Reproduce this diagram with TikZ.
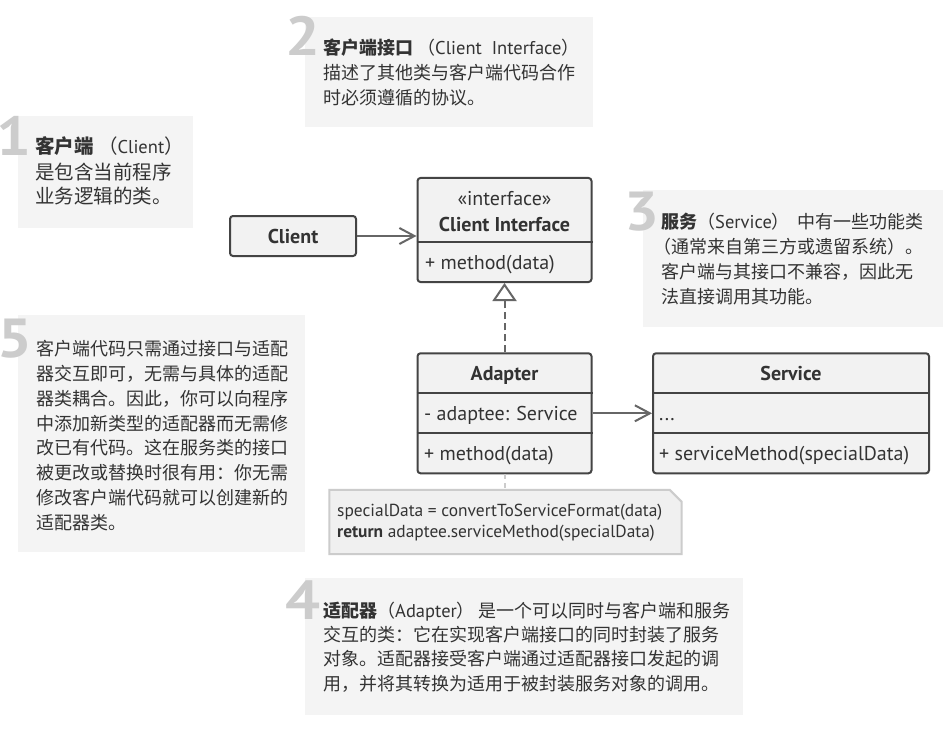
\documentclass[tikz,border=0pt]{standalone}
\usepackage{fontspec}
\usepackage{graphicx}
\setmainfont{PT Sans}
\newfontfamily\cjk{Noto Sans CJK SC}
\usetikzlibrary{arrows.meta}
\definecolor{panelbg}{HTML}{F4F4F4}
\definecolor{umlfill}{HTML}{F2F2F2}
\definecolor{umlline}{HTML}{444444}
\definecolor{textc}{HTML}{333333}
\definecolor{arrowc}{HTML}{666666}
\definecolor{digitc}{HTML}{CCCCCC}
\definecolor{notefill}{HTML}{F0F0F0}
\definecolor{noteline}{HTML}{CCCCCC}
\newcommand\lat[1]{{\rmfamily\fontsize{18.5}{25}\selectfont #1}}
\newcommand\bignum[1]{\scalebox{1.12}[1]{#1}}
\newcommand\edgenum[1]{\makebox[28pt][r]{\bignum{#1}}}
\begin{document}
\begin{tikzpicture}[x=1pt,y=-1pt,
  panel/.style={fill=panelbg, draw=none},
  digit/.style={anchor=base east, inner sep=0, text=digitc, font=\fontsize{55}{55}\selectfont\bfseries},
  zhline/.style={anchor=base west, inner sep=0, text=textc, font=\fontsize{18}{25}\cjk},
  zhbig/.style={anchor=base west, inner sep=0, text=textc, font=\fontsize{19.5}{25}\cjk},
  umlbox/.style={draw=umlline, fill=umlfill, line width=2pt, rounded corners=3pt, inner sep=0},
  umldiv/.style={draw=umlline, line width=2pt},
  umltxt/.style={inner sep=0, text=textc, font=\fontsize{20}{24}\selectfont},
  umlbold/.style={umltxt, anchor=base, font=\fontsize{20}{24}\selectfont\bfseries},
  notetxt/.style={inner sep=0, anchor=base west, text=textc, font=\fontsize{17.4}{20}\selectfont},
  assoc/.style={draw=arrowc, line width=2pt, -{Straight Barb[length=15pt, width=16pt, line width=2pt]}},
  realize/.style={draw=arrowc, line width=2pt, dash pattern=on 7pt off 4pt, -{Triangle[length=18pt, width=24pt, fill=white, line width=2pt]}},
  notelink/.style={draw=noteline, line width=2pt, dash pattern=on 5pt off 4pt},
]
\useasboundingbox (0,0) rectangle (952,738);
\fill[white] (0,0) rectangle (952,738);

% ---------- panels ----------
\path[panel] (18,116) rectangle (193,228);
\path[panel] (305,17) rectangle (593,127);
\path[panel] (643,190) rectangle (943,327);
\path[panel] (18,315) rectangle (305,552);
\path[panel] (305,578) rectangle (743,715);

% panel 1
\node[digit] (d1) at (32,156) {\edgenum{1}};
\node[zhbig] (p1a) at (35,154) {{\bfseries 客户端} （\lat{Client}）};
\node[zhbig] (p1b) at (35,179) {是包含当前程序};
\node[zhbig] (p1c) at (35,204) {业务逻辑的类。};

% panel 2
\node[digit] (d2) at (321,56) {\bignum{2}};
\node[zhline] (p2a) at (323,54.5) {{\bfseries 客户端接口} （\lat{Client\ \ Interface}）};
\node[zhline] (p2b) at (323,79.5) {描述了其他类与客户端代码合作};
\node[zhline] (p2c) at (323,104.5) {时必须遵循的协议。};

% panel 3
\node[digit] (d3) at (660,230) {\bignum{3}};
\node[zhline] (p3a) at (661,228.5) {{\bfseries 服务}（\lat{Service}） \ 中有一些功能类};
\node[zhline] (p3b) at (661,253.5) {\hspace{-8pt}（通常来自第三方或遗留系统）。};
\node[zhline] (p3c) at (661,278.5) {客户端与其接口不兼容，因此无};
\node[zhline] (p3d) at (661,303) {法直接调用其功能。};

% panel 5
\node[digit] (d5) at (33,357) {\edgenum{5}};
\node[zhline] (p5a) at (36,355.7) {客户端代码只需通过接口与适配};
\node[zhline] (p5b) at (36,380.5) {器交互即可，无需与具体的适配};
\node[zhline] (p5c) at (36,405.3) {器类耦合。因此，你可以向程序};
\node[zhline] (p5d) at (36,430.1) {中添加新类型的适配器而无需修};
\node[zhline] (p5e) at (36,454.9) {改已有代码。这在服务类的接口};
\node[zhline] (p5f) at (36,479.7) {被更改或替换时很有用：你无需};
\node[zhline] (p5g) at (36,504.5) {修改客户端代码就可以创建新的};
\node[zhline] (p5h) at (36,529.3) {适配器类。};

% panel 4
\node[digit] (d4) at (321,619) {\bignum{4}};
\node[zhline] (p4a) at (323,617) {{\bfseries 适配器}（\lat{Adapter}） 是一个可以同时与客户端和服务};
\node[zhline] (p4b) at (323,641.4) {交互的类：它在实现客户端接口的同时封装了服务};
\node[zhline] (p4c) at (323,665.8) {对象。适配器接受客户端通过适配器接口发起的调};
\node[zhline] (p4d) at (323,690.2) {用，并将其转换为适用于被封装服务对象的调用。};

% ---------- UML ----------
\node[umlbox, minimum width=126pt, minimum height=40pt] (cl) at (293,236) {};
\node[umlbold] (clt) at (293,243) {Client};

\node[umlbox, minimum width=174pt, minimum height=104pt] (ci) at (504.5,230) {};
\draw[umldiv] (ci.west |- 0,242) -- (ci.east |- 0,242);
\node[umltxt, anchor=base] (cis) at (504.5,205) {«interface»};
\node[umlbold] (cit) at (504.5,231.5) {Client Interface};
\node[umltxt, anchor=base west] (cim) at (425,269) {+ method(data)};

\node[umlbox, minimum width=174pt, minimum height=120pt] (ad) at (504.5,413.3) {};
\draw[umldiv] (ad.west |- 0,393.3) -- (ad.east |- 0,393.3);
\draw[umldiv] (ad.west |- 0,433.3) -- (ad.east |- 0,433.3);
\node[umlbold] (adt) at (504.5,380.5) {Adapter};
\node[umltxt, anchor=base west] (ada) at (424,420.5) {- adaptee: Service};
\node[umltxt, anchor=base west] (adm) at (424,460.5) {+ method(data)};

\node[umlbox, minimum width=276pt, minimum height=120pt] (sv) at (791,413.3) {};
\draw[umldiv] (sv.west |- 0,393.3) -- (sv.east |- 0,393.3);
\draw[umldiv] (sv.west |- 0,433.3) -- (sv.east |- 0,433.3);
\node[umlbold] (svt) at (791,380.5) {Service};
\node[umltxt, anchor=base west] (sva) at (659,420.5) {...};
\node[umltxt, anchor=base west] (svm) at (659,460.5) {+ serviceMethod(specialData)};

% note
\node[inner sep=0, minimum width=352pt, minimum height=64pt] (note) at (505.5,522) {};
\draw[draw=noteline, fill=notefill, line width=2pt]
  (note.north west) -- ([xshift=-12pt]note.north east) -- ([yshift=-12pt]note.north east)
  -- (note.south east) -- (note.south west) -- cycle;
\node[notetxt] (n1) at (337,516) {specialData = convertToServiceFormat(data)};
\node[notetxt] (n2) at (337,537.5) {\textbf{return} adaptee.serviceMethod(specialData)};

% connectors
\draw[assoc] (cl.east) -- (cl.east -| ci.west);
\draw[assoc] (ad.east) -- (sv.west);
\draw[realize] (ad.north) -- (ci.south);
\draw[notelink] (ad.south) -- (ad.south |- note.north);
\end{tikzpicture}
\end{document}
